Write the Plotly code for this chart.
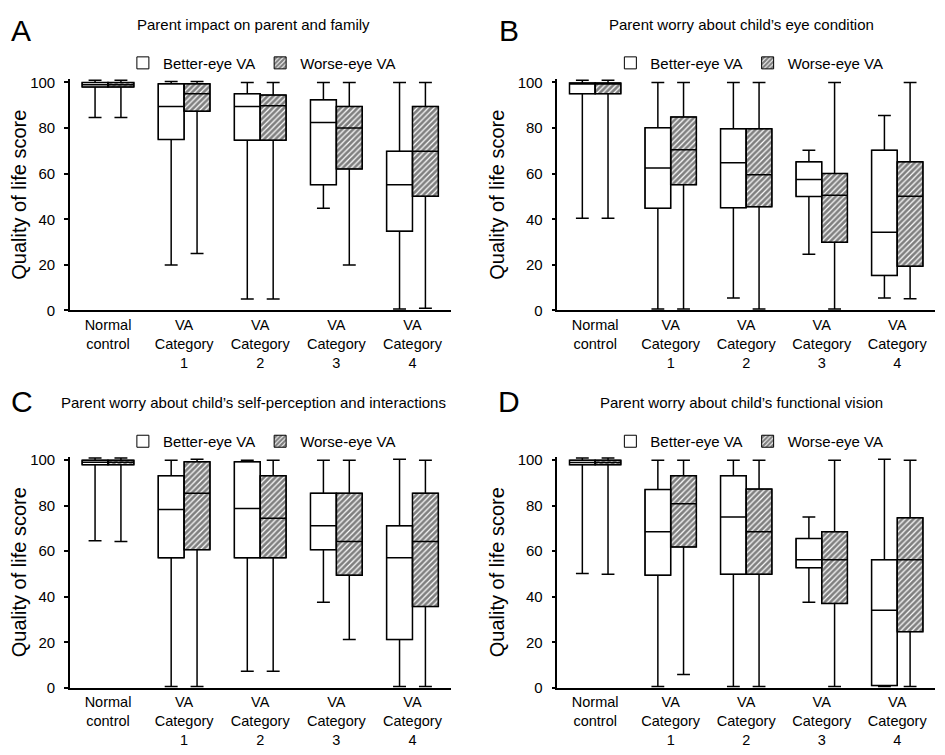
import plotly.graph_objects as go

FONT = "Liberation Sans, Arial, Helvetica, sans-serif"

categories = ["Normal<br>control", "VA<br>Category<br>1", "VA<br>Category<br>2",
              "VA<br>Category<br>3", "VA<br>Category<br>4"]
series_names = ["Better-eye VA", "Worse-eye VA"]
panel_letters = ["A", "B", "C", "D"]
panel_titles = ["Parent impact on parent and family",
                "Parent worry about child\u2019s eye condition",
                "Parent worry about child\u2019s self-perception and interactions",
                "Parent worry about child\u2019s functional vision"]
y_ticks = [0, 20, 40, 60, 80, 100]

# Panel A
A_better_lower = [84.6, 20.0, 5.0, 44.8, 0.7]
A_better_q1 = [98.0, 75.0, 74.7, 55.2, 34.8]
A_better_median = [99.0, 89.5, 89.5, 82.5, 55.2]
A_better_q3 = [100.0, 99.4, 95.1, 92.4, 69.8]
A_better_upper = [101.0, 100.4, 100.0, 100.0, 100.0]
A_worse_lower = [84.6, 25.0, 5.0, 20.0, 1.0]
A_worse_q1 = [98.0, 87.4, 74.7, 62.1, 50.1]
A_worse_median = [99.0, 95.1, 89.8, 80.0, 69.8]
A_worse_q3 = [100.0, 99.4, 94.5, 89.5, 89.5]
A_worse_upper = [101.0, 100.4, 100.0, 100.0, 100.0]

# Panel B
B_better_lower = [40.5, 0.7, 5.5, 24.7, 5.5]
B_better_q1 = [95.1, 44.8, 45.1, 50.0, 15.4]
B_better_median = [99.3, 62.5, 64.8, 57.5, 34.3]
B_better_q3 = [99.8, 80.2, 79.7, 65.2, 70.3]
B_better_upper = [101.0, 100.0, 100.0, 70.3, 85.5]
B_worse_lower = [40.5, 0.7, 0.7, 0.7, 5.2]
B_worse_q1 = [95.1, 55.2, 45.5, 29.9, 19.4]
B_worse_median = [99.5, 70.5, 59.5, 50.6, 50.1]
B_worse_q3 = [99.8, 84.9, 79.7, 60.1, 65.2]
B_worse_upper = [101.0, 100.0, 100.0, 100.0, 100.0]

# Panel C
C_better_lower = [64.6, 0.6, 7.3, 37.6, 0.6]
C_better_q1 = [98.0, 57.1, 57.1, 60.7, 21.2]
C_better_median = [99.1, 78.3, 78.8, 71.2, 57.1]
C_better_q3 = [100.0, 93.2, 99.3, 85.5, 71.2]
C_better_upper = [101.0, 100.0, 100.0, 100.0, 100.4]
C_worse_lower = [64.3, 0.6, 7.3, 21.2, 0.6]
C_worse_q1 = [98.0, 60.7, 57.1, 49.5, 35.7]
C_worse_median = [99.1, 85.5, 74.5, 64.3, 64.3]
C_worse_q3 = [100.0, 99.3, 93.2, 85.5, 85.5]
C_worse_upper = [101.0, 100.4, 100.0, 100.0, 100.0]

# Panel D
D_better_lower = [50.2, 0.6, 0.6, 37.6, 0.6]
D_better_q1 = [98.0, 49.5, 49.9, 52.8, 1.0]
D_better_median = [99.0, 68.6, 75.0, 56.3, 34.1]
D_better_q3 = [100.0, 87.1, 93.2, 65.6, 56.3]
D_better_upper = [101.0, 100.0, 100.0, 75.0, 100.4]
D_worse_lower = [49.9, 5.9, 0.6, 0.6, 0.6]
D_worse_q1 = [98.0, 61.9, 49.9, 37.1, 24.7]
D_worse_median = [99.0, 80.9, 68.6, 56.3, 56.3]
D_worse_q3 = [100.0, 93.2, 87.3, 68.6, 74.7]
D_worse_upper = [101.0, 100.0, 100.0, 100.0, 100.0]

panels = [
    [(A_better_lower, A_better_q1, A_better_median, A_better_q3, A_better_upper),
     (A_worse_lower, A_worse_q1, A_worse_median, A_worse_q3, A_worse_upper)],
    [(B_better_lower, B_better_q1, B_better_median, B_better_q3, B_better_upper),
     (B_worse_lower, B_worse_q1, B_worse_median, B_worse_q3, B_worse_upper)],
    [(C_better_lower, C_better_q1, C_better_median, C_better_q3, C_better_upper),
     (C_worse_lower, C_worse_q1, C_worse_median, C_worse_q3, C_worse_upper)],
    [(D_better_lower, D_better_q1, D_better_median, D_better_q3, D_better_upper),
     (D_worse_lower, D_worse_q1, D_worse_median, D_worse_q3, D_worse_upper)],
]

W, H = 945, 755
OFF = 8  # page body margin offset


def px_x(v):
    return (v - OFF) / W


def px_y(v):
    return 1 - (v - OFF) / H


x_domains = [[px_x(69), px_x(450)], [px_x(557), px_x(935)],
             [px_x(69), px_x(450)], [px_x(557), px_x(935)]]
y_domains = [[px_y(310.7), px_y(75.0)], [px_y(310.7), px_y(75.0)],
             [px_y(694.7), px_y(459.3)], [px_y(694.7), px_y(459.3)]]
title_pos = [(253, 20), (741, 20), (253, 404), (741, 404)]
# letter boxes anchored at their top edge
letter_pos = [(9, 8), (498, 8), (9, 386), (497, 386)]
legend_pos = [(122, 59), (610, 59), (122, 444), (610, 444)]

offsets = [-0.17, 0.17]
box_w = 0.34

fig = go.Figure()
layout = dict(
    width=W, height=H, margin=dict(l=0, r=0, t=0, b=0),
    paper_bgcolor="white", plot_bgcolor="white",
    font=dict(family=FONT, size=15, color="black"),
    barmode="overlay", boxmode="overlay", annotations=[],
)

for p in range(4):
    sfx = "" if p == 0 else str(p + 1)
    xa, ya = "x" + sfx, "y" + sfx
    leg = "legend" + sfx
    for s in range(2):
        low, q1, med, q3, up = panels[p][s]
        xs = [i + offsets[s] for i in range(len(categories))]
        if s == 0:
            marker = dict(color="white", line=dict(color="black", width=1))
        else:
            marker = dict(color="white", line=dict(color="black", width=1),
                          pattern=dict(shape="/", size=4, solidity=0.7,
                                       fgcolor="black", bgcolor="white"))
        fig.add_trace(go.Bar(
            x=xs, y=[b - a for a, b in zip(q1, q3)], base=q1, width=box_w,
            marker=marker, name=series_names[s], showlegend=True, legend=leg,
            xaxis=xa, yaxis=ya, hoverinfo="skip"))
        fig.add_trace(go.Box(
            x=xs, q1=q1, median=med, q3=q3, lowerfence=low, upperfence=up,
            width=box_w, whiskerwidth=0.5, boxpoints=False,
            fillcolor="rgba(0,0,0,0)", line=dict(color="black", width=1.5),
            showlegend=False, xaxis=xa, yaxis=ya, name=series_names[s]))

    layout["xaxis" + sfx] = dict(
        domain=x_domains[p], anchor=ya, range=[-0.5, 4.5],
        tickmode="array", tickvals=list(range(len(categories))), ticktext=categories,
        ticks="", showline=True, linecolor="black", linewidth=2,
        showgrid=False, zeroline=False, tickfont=dict(size=14.5), fixedrange=True)
    layout["yaxis" + sfx] = dict(
        domain=y_domains[p], anchor=xa, range=[0, 101.6],
        tickmode="array", tickvals=y_ticks, ticks="outside", ticklen=4, tickwidth=1.5,
        tickcolor="black", showline=True, linecolor="black", linewidth=1.5,
        showgrid=False, zeroline=False, tickfont=dict(size=15),
        ticklabelstandoff=6,
        title=dict(text="Quality of life score", font=dict(size=20), standoff=8),
        fixedrange=True)
    lx, ly = legend_pos[p]
    layout[leg] = dict(
        orientation="h", x=px_x(lx), y=px_y(ly), xanchor="left", yanchor="middle",
        bgcolor="rgba(0,0,0,0)", font=dict(size=15), traceorder="normal")
    tx, ty = title_pos[p]
    layout["annotations"].append(dict(
        text=panel_titles[p], x=px_x(tx), y=px_y(ty), xref="paper", yref="paper",
        xanchor="center", yanchor="middle", showarrow=False, font=dict(size=15)))
    gx, gy = letter_pos[p]
    layout["annotations"].append(dict(
        text=panel_letters[p], x=px_x(gx), y=px_y(gy), xref="paper", yref="paper",
        xanchor="left", yanchor="top", showarrow=False, borderpad=0,
        font=dict(size=30)))

fig.update_layout(**layout)
fig.write_html("out.html")
